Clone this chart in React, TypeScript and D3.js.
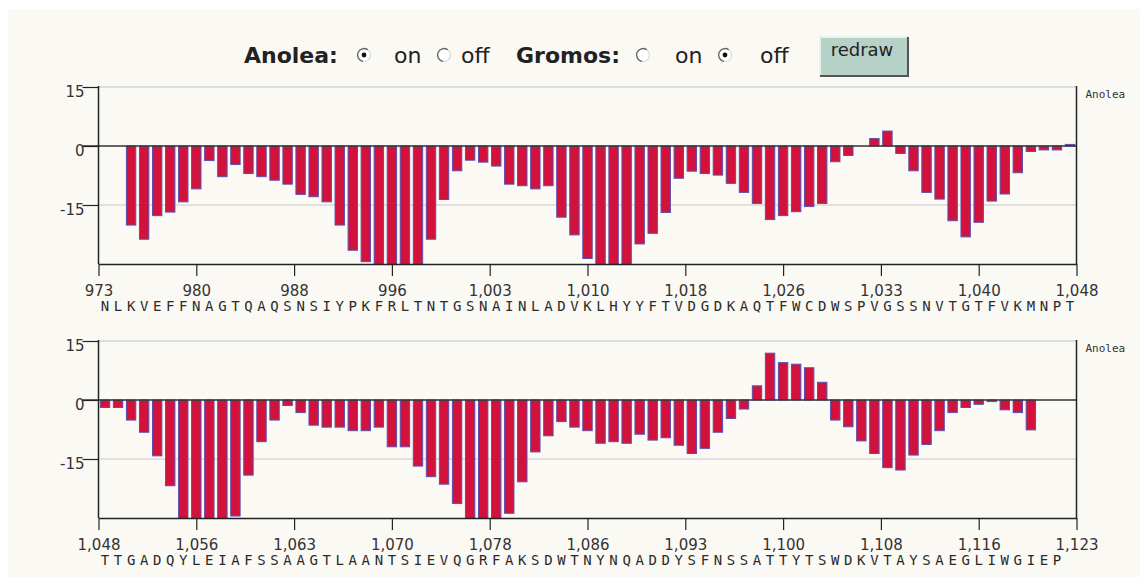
import React, { useRef, useEffect } from 'react';
import * as d3 from 'd3';

// residue sequences shown under each strip
const topStart = 973;
const topSequence = 'NLKVEFFNAGTQAQSNSIYPKFRLTNTGSNAINLADVKLHYYFTVDGDKAQTFWCDWSPVGSSNVTGTFVKMNPT';
const bottomStart = 1048;
const bottomSequence = 'TTGADQYLEIAFSSAAGTLAANTSIEVQGRFAKSDWTNYNQADDYSFNSSATTYTSWDKVTAYSAEGLIWGIEP';

// Anolea energy per residue (null = no bar). values below -30 get clipped by the plot
const topAnolea = [
  null, null, -20.1, -23.7, -17.7, -16.8, -14.2, -10.9, -3.7, -7.8,
  -4.7, -7.0, -7.8, -8.7, -9.7, -12.3, -12.9, -14.2, -20.1, -26.5,
  -29.4, -33, -34, -33, -33, -23.7, -13.6, -6.3, -3.6, -4.1,
  -5.1, -9.7, -10.1, -10.9, -10.1, -18.1, -22.6, -28.6, -33, -34,
  -33, -24.9, -22.2, -16.9, -8.2, -6.4, -7.0, -7.4, -9.5, -11.8,
  -14.6, -18.7, -17.7, -16.7, -15.4, -14.6, -4.0, -2.4, null, 1.9,
  3.8, -1.9, -6.3, -11.8, -13.5, -19.0, -23.1, -19.4, -14.0, -12.2,
  -6.8, -1.4, -1.0, -1.0, 0.4,
];
const bottomAnolea = [
  -1.9, -1.9, -5.1, -8.2, -14.2, -21.8, -33, -34, -34, -33,
  -29.5, -19.1, -10.6, -5.1, -1.4, -3.2, -6.4, -6.9, -6.9, -7.8,
  -7.8, -6.9, -11.9, -11.9, -16.8, -19.5, -21.4, -26.3, -33, -34,
  -33, -28.8, -20.8, -13.2, -9.1, -5.5, -6.9, -7.8, -11.0, -10.6,
  -11.0, -8.7, -10.2, -9.6, -11.5, -13.6, -12.3, -8.2, -4.7, -2.3,
  3.6, 11.9, 9.5, 9.1, 8.2, 4.5, -5.1, -6.8, -10.4, -13.6,
  -17.2, -17.8, -14.0, -11.3, -7.8, -3.2, -1.9, -1.1, -0.4, -2.5,
  -3.2, -7.6, null, null, null,
];

// x ticks sit at 10 equal steps, labels are rounded
const topTicks = [973, 980.5, 988, 995.5, 1003, 1010.5, 1018, 1025.5, 1033, 1040.5, 1048];
const topTickLabels = ['973', '980', '988', '996', '1,003', '1,010', '1,018', '1,026', '1,033', '1,040', '1,048'];
const bottomTicks = [1048, 1055.5, 1063, 1070.5, 1078, 1085.5, 1093, 1100.5, 1108, 1115.5, 1123];
const bottomTickLabels = ['1,048', '1,056', '1,063', '1,070', '1,078', '1,086', '1,093', '1,100', '1,108', '1,116', '1,123'];

const yTicks = [15, 0, -15];
const yDomain = [-30, 15];
const seriesName = 'Anolea';

const W = 1140;
const H = 577;
const plotLeft = 98.5;
const plotRight = 1076.5;
const plotH = 177;
const sans = '"DejaVu Sans", Verdana, sans-serif';
const mono = '"DejaVu Sans Mono", monospace';

function drawStrip(svg, id, top, start, seq, values, ticks, labels) {
  const n = values.length;
  const x = d3.scaleLinear().domain([start, start + n]).range([plotLeft, plotRight]);
  const band = d3.scaleBand()
    .domain(d3.range(n))
    .range([plotLeft, plotRight])
    .paddingInner(0.28)
    .paddingOuter(0.14);
  const y = d3.scaleLinear().domain(yDomain).range([top + plotH, top]);
  const bottom = top + plotH;

  const g = svg.append('g');

  g.append('clipPath').attr('id', id)
    .append('rect')
    .attr('x', plotLeft).attr('y', top)
    .attr('width', plotRight - plotLeft).attr('height', plotH);

  // grid lines
  g.append('line')
    .attr('x1', plotLeft).attr('x2', plotRight)
    .attr('y1', y(15)).attr('y2', y(15))
    .attr('stroke', '#dcdcdc').attr('stroke-width', 2);
  g.append('line')
    .attr('x1', plotLeft).attr('x2', plotRight)
    .attr('y1', y(-15)).attr('y2', y(-15))
    .attr('stroke', '#c8c8c8').attr('stroke-width', 1);

  // bars
  g.append('g').attr('clip-path', `url(#${id})`)
    .selectAll('rect')
    .data(values.map((v, i) => ({ v, i })).filter(d => d.v !== null))
    .join('rect')
    .attr('x', d => band(d.i))
    .attr('width', band.bandwidth())
    .attr('y', d => y(Math.max(0, d.v)))
    .attr('height', d => Math.abs(y(d.v) - y(0)))
    .attr('fill', '#d3123b')
    .attr('stroke', '#5c4fb2')
    .attr('stroke-width', 1);

  // zero line
  g.append('line')
    .attr('x1', plotLeft - 16).attr('x2', plotRight)
    .attr('y1', y(0)).attr('y2', y(0))
    .attr('stroke', '#333').attr('stroke-width', 1.5);

  // right border
  g.append('line')
    .attr('x1', plotRight).attr('x2', plotRight)
    .attr('y1', top - 1).attr('y2', bottom)
    .attr('stroke', '#222').attr('stroke-width', 1.5);

  // left axis
  const yAxis = g.append('g')
    .attr('transform', `translate(${plotLeft},0)`)
    .call(d3.axisLeft(y).tickValues(yTicks).tickSize(16).tickSizeOuter(0).tickFormat(d3.format('d')));
  yAxis.select('.domain').attr('stroke', '#222').attr('stroke-width', 1.5)
    .attr('d', `M0,${top - 1}V${bottom}`);
  yAxis.selectAll('line').attr('stroke', '#222').attr('stroke-width', 1.2);
  yAxis.selectAll('text')
    .attr('x', -14).attr('dy', '0.65em')
    .style('font-family', sans).style('font-size', '15px').attr('fill', '#333')
    .text(d => d < 0 ? '-' + Math.abs(d) : d);

  // bottom axis
  const xAxis = g.append('g')
    .attr('transform', `translate(0,${bottom})`)
    .call(d3.axisBottom(x).tickValues(ticks).tickSize(12).tickSizeOuter(0)
      .tickFormat((d, i) => labels[i]));
  xAxis.select('.domain').attr('stroke', '#222').attr('stroke-width', 1.5);
  xAxis.selectAll('line').attr('stroke', '#222').attr('stroke-width', 1.2);
  xAxis.selectAll('text')
    .attr('y', 21)
    .style('font-family', sans).style('font-size', '15px').attr('fill', '#333');

  // residue letters
  g.append('g')
    .selectAll('text')
    .data(seq.split(''))
    .join('text')
    .attr('x', (d, i) => band(i) + band.bandwidth() / 2)
    .attr('y', bottom + 47)
    .attr('text-anchor', 'middle')
    .style('font-family', mono).style('font-size', '14px')
    .attr('fill', '#2a2a2a')
    .text(d => d);

  // series label on the right
  g.append('text')
    .attr('x', plotRight + 9).attr('y', top + 11)
    .style('font-family', mono).style('font-size', '11px')
    .attr('fill', '#333')
    .text(seriesName);
}

function radio(svg, cx, cy, checked) {
  const g = svg.append('g');
  g.append('circle').attr('cx', cx).attr('cy', cy).attr('r', 6.5)
    .attr('fill', '#fff').attr('stroke', '#d8d8d8').attr('stroke-width', 1.2);
  g.append('path')
    .attr('d', d3.arc()({ innerRadius: 5.8, outerRadius: 7.1, startAngle: -Math.PI * 0.95, endAngle: Math.PI * 0.2 }))
    .attr('transform', `translate(${cx},${cy})`)
    .attr('fill', '#666');
  if (checked) {
    g.append('circle').attr('cx', cx).attr('cy', cy).attr('r', 2.4).attr('fill', '#111');
  }
}

function App() {
  const svgRef = useRef(null);

  useEffect(() => {
    const svg = d3.select(svgRef.current);
    svg.selectAll('*').remove();

    svg.append('rect').attr('width', W).attr('height', H).attr('fill', '#fff');
    svg.append('rect').attr('x', 8).attr('y', 9).attr('width', W - 8).attr('height', H - 9)
      .attr('fill', '#fbf9f4');

    // controls row
    const txt = (x, label, bold) => svg.append('text')
      .attr('x', x).attr('y', 63)
      .style('font-family', sans).style('font-size', '22px')
      .style('font-weight', bold ? 'bold' : 'normal')
      .attr('fill', '#222')
      .text(label);

    txt(244, 'Anolea:', true);
    radio(svg, 364, 55, true);
    txt(394, 'on', false);
    radio(svg, 444, 55, false);
    txt(461, 'off', false);
    txt(516, 'Gromos:', true);
    radio(svg, 643, 55, false);
    txt(675, 'on', false);
    radio(svg, 725, 55, true);
    txt(760, 'off', false);

    const btn = svg.append('g');
    btn.append('rect').attr('x', 820).attr('y', 37).attr('width', 88).attr('height', 39)
      .attr('fill', '#b6d1c7');
    btn.append('path').attr('d', 'M820,76V37H908').attr('fill', 'none').attr('stroke', '#e6f0ec').attr('stroke-width', 2);
    btn.append('path').attr('d', 'M820,76H908V37').attr('fill', 'none').attr('stroke', '#555').attr('stroke-width', 2);
    btn.append('text').attr('x', 862).attr('y', 56).attr('text-anchor', 'middle')
      .style('font-family', sans).style('font-size', '18px').attr('fill', '#222')
      .text('redraw');

    drawStrip(svg, 'clipTop', 87, topStart, topSequence, topAnolea, topTicks, topTickLabels);
    drawStrip(svg, 'clipBottom', 341, bottomStart, bottomSequence, bottomAnolea, bottomTicks, bottomTickLabels);
  }, []);

  return (
    <svg ref={svgRef} width={W} height={H}
      style={{ position: 'absolute', left: 0, top: 0, display: 'block' }} />
  );
}

export default App;
